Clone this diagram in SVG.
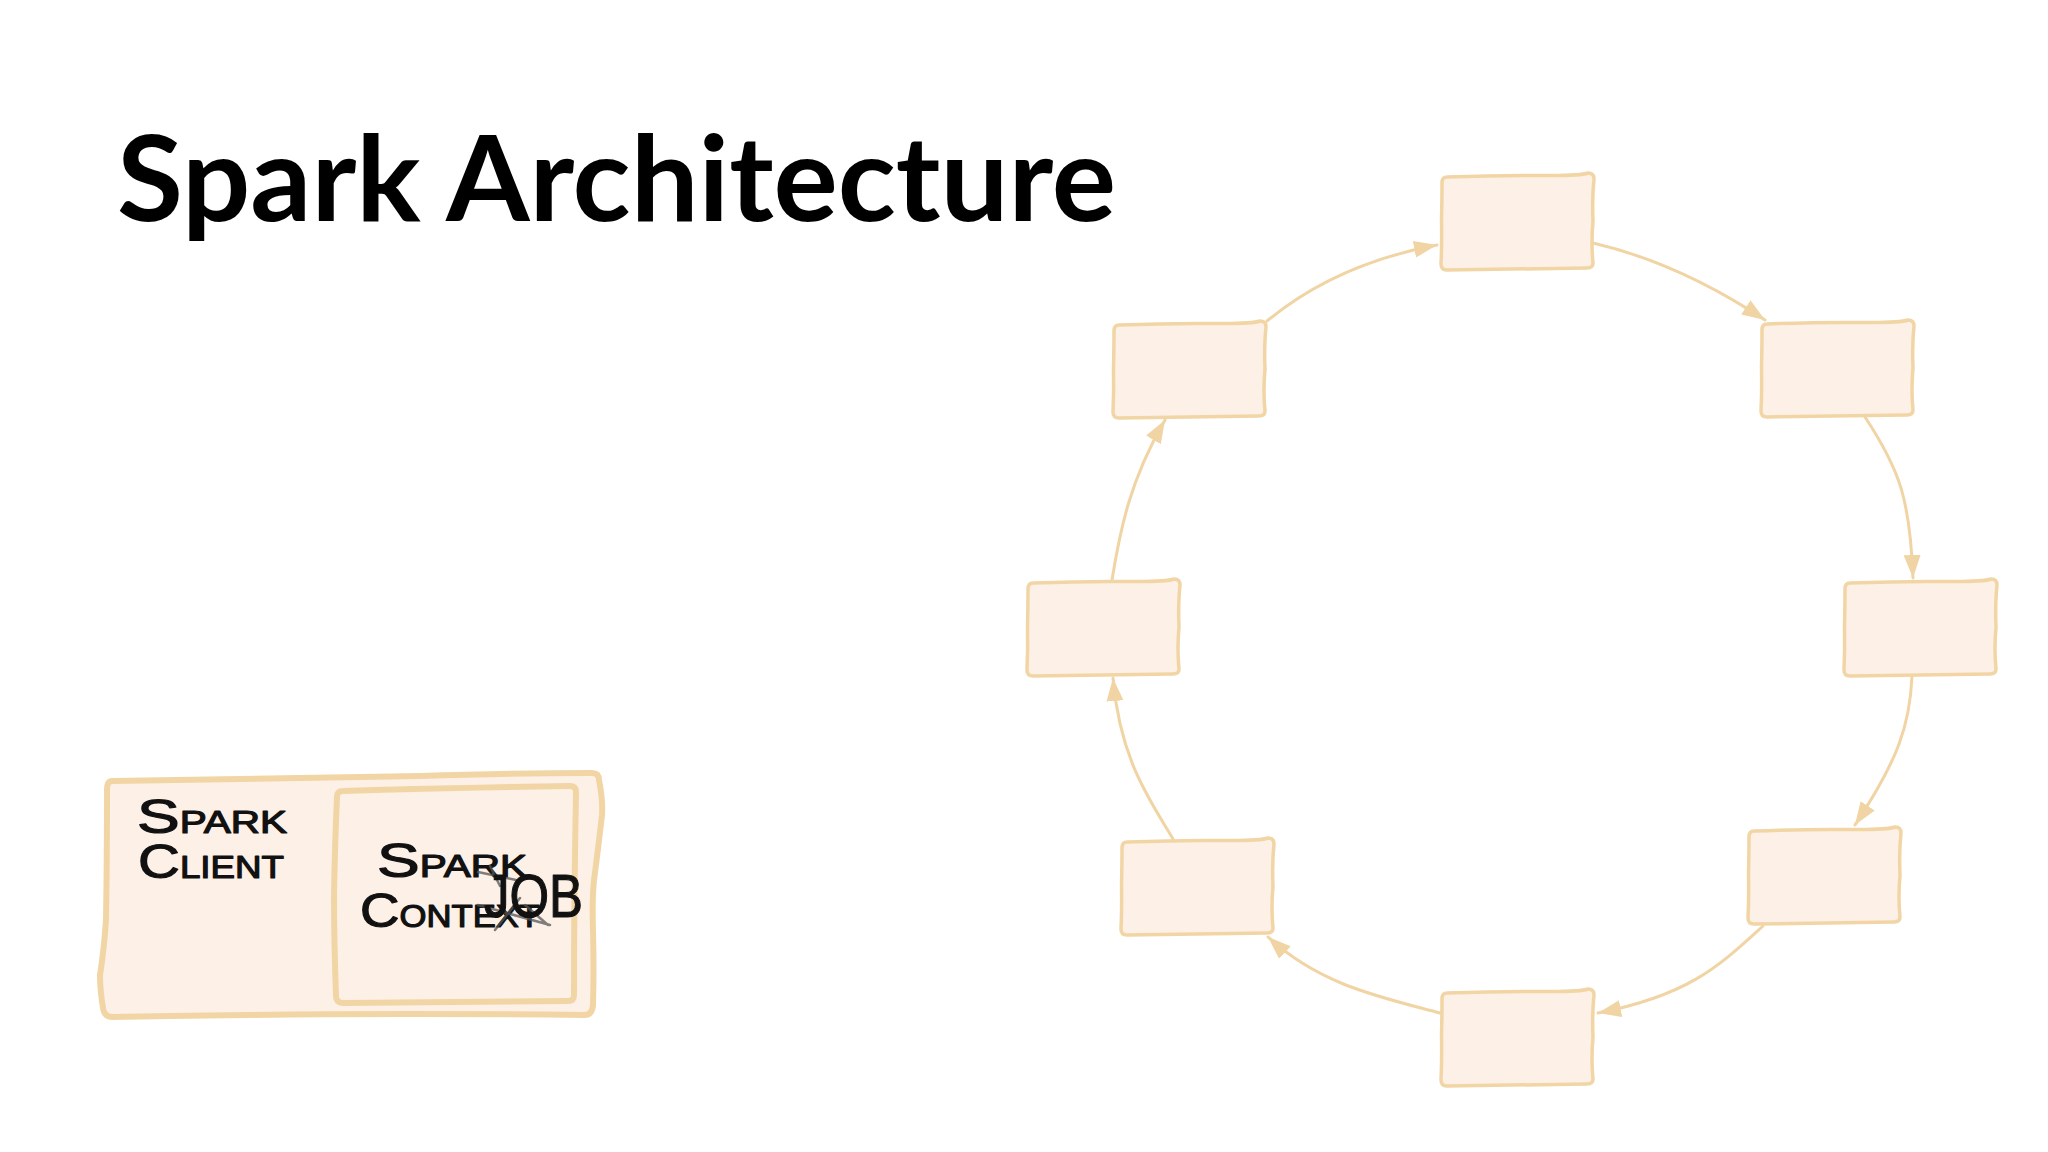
<svg xmlns="http://www.w3.org/2000/svg" xmlns:xlink="http://www.w3.org/1999/xlink" width="2048" height="1152" viewBox="0 0 2048 1152">
  <style>
    .title { font-family: Lato, "Open Sans", "Liberation Sans", sans-serif; font-weight: bold; font-size: 118px; fill: #000; }
    .hand { font-family: "Liberation Sans", "DejaVu Sans", sans-serif; fill: #111; stroke: #111; stroke-width: 1.2; stroke-linejoin: round; }
    .box { fill: #FDF0E7; stroke: #F2D5A5; stroke-width: 3.5; stroke-linejoin: round; }
    .big { fill: #FDF0E7; stroke: #F2D5A5; stroke-width: 6; stroke-linejoin: round; }
    .conn { fill: none; stroke: #F1D4A3; stroke-width: 3; stroke-linecap: round; }
    .cross { stroke: #555; stroke-width: 2.5; stroke-linecap: round; opacity: 0.75; fill: none; }
  </style>
  <defs>
    <path id="box" d="M7,4 Q60,2 100,2.5 T148,0 Q154,0 154,6 Q152,25 153,48 Q151,70 153,90 Q153,95 147,95 Q80,96 7,97 Q1,97 1,91 Q2,70 1.5,48 Q2,25 2,10 Q2,4 7,4 Z"/>
    <marker id="arr" markerWidth="26" markerHeight="18" refX="23" refY="8.5" orient="auto" markerUnits="userSpaceOnUse">
      <path d="M0,0 L23,8.5 L0,17 Z" fill="#F1D4A3"/>
    </marker>
  </defs>

  <rect x="0" y="0" width="2048" height="1152" fill="#FFFFFF"/>

  <text id="title" class="title" x="117" y="221" textLength="999" lengthAdjust="spacingAndGlyphs">Spark Architecture</text>

  <g id="spark-client">
    <path class="big" d="M112,781 Q300,778 420,776 Q520,773 592,773 Q599,773 599,780 Q603,800 602,815 Q598,850 594,880 Q592,900 593,930 Q594,970 593,1005 Q592,1015 585,1015 Q400,1013 250,1015 Q160,1016 113,1017 Q104,1017 103,1008 Q100,990 100,975 Q104,950 106,920 Q107,860 107,790 Q107,781 112,781 Z"/>
    <text class="hand" x="137" y="833" textLength="150" lengthAdjust="spacingAndGlyphs"><tspan font-size="49">S</tspan><tspan font-size="31">PARK</tspan></text>
    <text class="hand" x="138" y="878" textLength="146" lengthAdjust="spacingAndGlyphs"><tspan font-size="49">C</tspan><tspan font-size="31">LIENT</tspan></text>
  </g>

  <g id="spark-context">
    <path class="big" d="M343,791 Q450,788 570,786 Q576,786 576,792 Q574,900 574,995 Q574,1001 568,1001 Q450,1002 343,1003 Q336,1003 336,996 Q334,940 334,895 Q335,840 337,797 Q337,791 343,791 Z"/>
    <text class="hand" x="377" y="877" textLength="150" lengthAdjust="spacingAndGlyphs"><tspan font-size="49">S</tspan><tspan font-size="31">PARK</tspan></text>
    <text class="hand" x="360" y="927" textLength="180" lengthAdjust="spacingAndGlyphs"><tspan font-size="49">C</tspan><tspan font-size="31">ONTEXT</tspan></text>
    <path class="cross" d="M478,872 L516,880 M490,866 L500,886 M478,905 L550,925 M495,930 L520,898 M525,905 L548,925"/>
    <text class="hand" x="484" y="917" font-size="62" textLength="99" lengthAdjust="spacingAndGlyphs">JOB</text>
  </g>

  <g id="connectors">
    <path class="conn" marker-end="url(#arr)" d="M1267,321 Q1336,264 1437,245"/>
    <path class="conn" marker-end="url(#arr)" d="M1593,243 Q1679,263 1765,320"/>
    <path class="conn" marker-end="url(#arr)" d="M1865,417 C1900,470 1910,500 1913,578"/>
    <path class="conn" marker-end="url(#arr)" d="M1912,676 C1910,725 1898,760 1855,825"/>
    <path class="conn" marker-end="url(#arr)" d="M1763,926 C1720,965 1690,995 1598,1013"/>
    <path class="conn" marker-end="url(#arr)" d="M1440,1013 C1380,997 1320,985 1268,937"/>
    <path class="conn" marker-end="url(#arr)" d="M1173,839 C1150,800 1120,760 1113,678"/>
    <path class="conn" marker-end="url(#arr)" d="M1112,580 C1120,530 1130,480 1165,420"/>
  </g>

  <g id="node-top"><use xlink:href="#box" class="box" x="1440" y="173"/></g>
  <g id="node-upper-right"><use xlink:href="#box" class="box" x="1760" y="320"/></g>
  <g id="node-right"><use xlink:href="#box" class="box" x="1843" y="579"/></g>
  <g id="node-lower-right"><use xlink:href="#box" class="box" x="1747" y="827"/></g>
  <g id="node-bottom"><use xlink:href="#box" class="box" x="1440" y="989"/></g>
  <g id="node-lower-left"><use xlink:href="#box" class="box" x="1120" y="838"/></g>
  <g id="node-left"><use xlink:href="#box" class="box" x="1026" y="579"/></g>
  <g id="node-upper-left"><use xlink:href="#box" class="box" x="1112" y="321"/></g>
</svg>
